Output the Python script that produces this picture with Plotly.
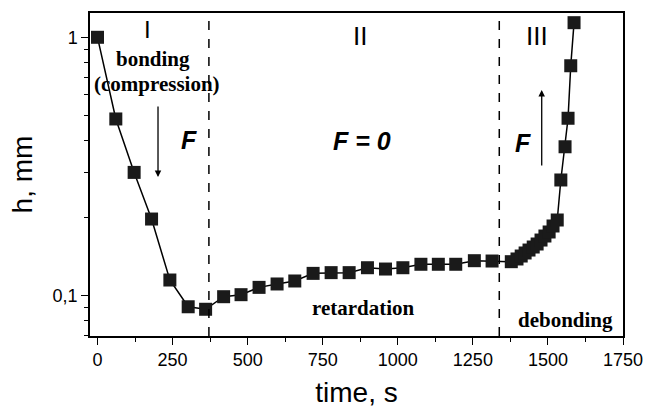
import plotly.graph_objects as go
import numpy as np

# time (s) and gap height h (mm)
time_s = [0, 61, 122, 180, 241, 302, 360,
          420, 478, 538, 598, 657, 718, 778, 838, 899, 959, 1017, 1077, 1135, 1193, 1255, 1314,
          1378, 1397, 1411, 1424, 1437, 1451, 1464, 1477, 1490, 1504, 1517, 1531,
          1543, 1557, 1567, 1576, 1587]
h_mm = [1.0, 0.483, 0.30, 0.198, 0.115, 0.0906, 0.0886,
        0.0991, 0.1009, 0.1077, 0.111, 0.114, 0.122, 0.1228, 0.1228, 0.1283, 0.1268, 0.1283,
        0.1323, 0.1323, 0.1323, 0.1366, 0.1362,
        0.1354, 0.1387, 0.1424, 0.1463, 0.1502, 0.1543, 0.1585, 0.1642, 0.1702, 0.1764,
        0.1861, 0.1963, 0.2804, 0.377, 0.486, 0.776, 1.139]

phase_boundaries = [371, 1338]
x_ticks = [0, 250, 500, 750, 1000, 1250, 1500, 1750]
y_ticks = [0.1, 1]
y_ticklabels = ["0,1", "1"]
y_minor = [0.07, 0.08, 0.09, 0.2, 0.3, 0.4, 0.5, 0.6, 0.7, 0.8, 0.9]

fig = go.Figure()
fig.add_trace(go.Scatter(
    x=time_s, y=h_mm, mode="lines+markers",
    line=dict(color="black", width=1.5),
    marker=dict(symbol="square", size=13, color="#1a1a1a"),
    showlegend=False))

shapes = []
for b in phase_boundaries:
    shapes.append(dict(type="line", xref="x", yref="paper", x0=b, x1=b, y0=0, y1=1,
                       line=dict(color="black", width=1.5, dash="dash")))

sans = "Liberation Sans, Arial, sans-serif"
serif = "Liberation Serif, Times New Roman, serif"

def txt(x, y, s, font, size, bold=False, italic=False):
    t = s
    if bold:
        t = "<b>" + t + "</b>"
    if italic:
        t = "<i>" + t + "</i>"
    return dict(xref="paper", yref="paper", x=x, y=y, text=t, showarrow=False,
                xanchor="center", yanchor="middle",
                font=dict(family=font, size=size, color="black"))

annotations = [
    txt(0.1088, 0.950, "I", sans, 24),
    txt(0.5066, 0.930, "II", sans, 26),
    txt(0.8386, 0.930, "III", sans, 26),
    txt(0.1182, 0.858, "bonding", serif, 21, bold=True),
    txt(0.1257, 0.780, "(compression)", serif, 21, bold=True),
    txt(0.1857, 0.607, "F", sans, 25, bold=True, italic=True),
    txt(0.510, 0.604, "F = 0", sans, 25, bold=True, italic=True),
    txt(0.8124, 0.598, "F", sans, 25, bold=True, italic=True),
    txt(0.514, 0.0867, "retardation", serif, 21, bold=True),
    txt(0.893, 0.0495, "debonding", serif, 21, bold=True),
    dict(xref="paper", yref="paper", x=0.1276, y=0.492, ax=0, ay=-72,
         showarrow=True, arrowhead=2, arrowsize=1, arrowwidth=1.3, arrowcolor="black", text=""),
    dict(xref="paper", yref="paper", x=0.8475, y=0.7616, ax=0, ay=77,
         showarrow=True, arrowhead=2, arrowsize=1, arrowwidth=1.3, arrowcolor="black", text=""),
]

fig.update_layout(
    width=647, height=408,
    margin=dict(l=90, r=24, t=13, b=72),
    paper_bgcolor="white", plot_bgcolor="white",
    shapes=shapes, annotations=annotations,
    font=dict(family=sans, color="black"),
    xaxis=dict(
        range=[-25, 1750], tickmode="array", tickvals=x_ticks, automargin=False,
        ticks="outside", ticklen=7, tickwidth=1.3, tickcolor="black",
        showline=True, linecolor="black", linewidth=1.5, mirror=True,
        showgrid=False, zeroline=False,
        tickfont=dict(family=sans, size=18, color="black"),
        minor=dict(dtick=125, tick0=0, ticks="outside", ticklen=4, tickwidth=1.2,
                   tickcolor="black", showgrid=False),
        title=dict(text="time, s", font=dict(family=sans, size=28, color="black"), standoff=14),
    ),
    yaxis=dict(
        type="log", range=[-1.156, 0.094], tickmode="array", tickvals=y_ticks,
        ticktext=y_ticklabels, automargin=False,
        ticks="outside", ticklen=7, tickwidth=1.3, tickcolor="black",
        showline=True, linecolor="black", linewidth=1.5, mirror=True,
        showgrid=False, zeroline=False,
        tickfont=dict(family=sans, size=18, color="black"),
        minor=dict(tickmode="array", tickvals=y_minor, ticks="outside", ticklen=4,
                   tickwidth=1.2, tickcolor="black", showgrid=False),
        title=dict(text="h, mm", font=dict(family=sans, size=28, color="black"), standoff=12),
    ),
)

fig.write_html("out.html")
